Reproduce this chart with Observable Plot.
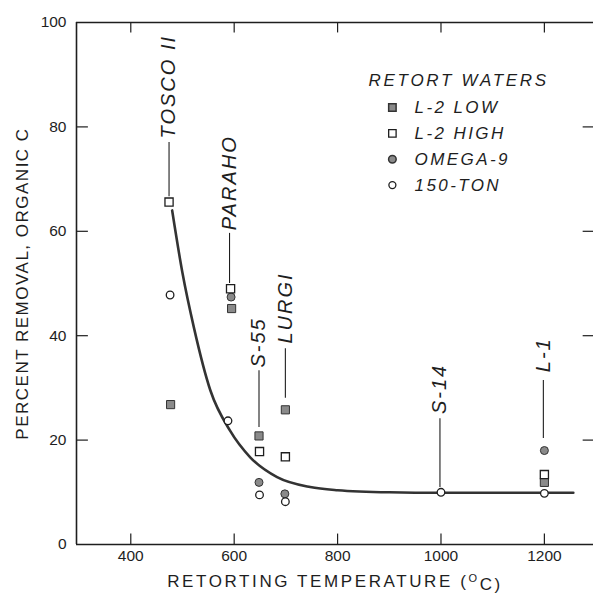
<!DOCTYPE html>
<html><head><meta charset="utf-8">
<script src="https://cdn.jsdelivr.net/npm/d3@7"></script>
<script src="https://cdn.jsdelivr.net/npm/@observablehq/plot@0.6"></script>
<style>
html,body{margin:0;padding:0;background:#fff;}
#chart svg{display:block;font-family:"Liberation Sans",Arial,Helvetica,sans-serif;}
</style></head><body><div id="chart"></div>
<script>
// ---- data ----
const seriesNames = ["L-2 LOW", "L-2 HIGH", "OMEGA-9", "150-TON"];
const l2Low  = [[477, 26.8], [595, 45.2], [648, 20.8], [699, 25.8], [1200, 11.9]];
const l2High = [[474, 65.6], [593, 49.0], [649, 17.8], [699, 16.8], [1200, 13.4]];
const omega9 = [[594, 47.4], [648, 11.9], [698, 9.7], [1200, 18.0]];
const ton150 = [[476, 47.8], [588, 23.7], [649, 9.5], [699, 8.2], [1000, 10.0], [1200, 9.8]];
const curveT = [480, 500, 522, 554, 592, 631, 683, 747, 800, 900, 1000, 1100, 1256];
const curveV = [64.0, 52.0, 41.6, 29.5, 21.8, 16.7, 12.9, 11.0, 10.4, 10.0, 9.9, 9.9, 9.9];
const processNames  = ["TOSCO II", "PARAHO", "S-55", "LURGI", "S-14", "L-1"];
const processTemps  = [474, 591, 648, 699, 998, 1198];
const labelBase     = [77.8, 60.2, 33.9, 38.5, 25.0, 33.0];
const leaderTop     = [77.0, 59.6, 33.3, 37.5, 24.1, 31.4];
const leaderBottom  = [66.6, 50.0, 22.4, 28.0, 10.9, 20.3];
const xTicks = [400, 600, 800, 1000, 1200];
const yTicks = [0, 20, 40, 60, 80, 100];
const xTitle = "RETORTING TEMPERATURE (OC)";
const yTitle = "PERCENT REMOVAL, ORGANIC C";
const legendTitle = "RETORT WATERS";

// ---- build tables ----
const pts = arr => arr.map(([t, v]) => ({t, v}));
const curve = curveT.map((t, i) => ({t, v: curveV[i]}));
const labels = processNames.map((name, i) => ({
  name, t: processTemps[i], base: labelBase[i], top: leaderTop[i], bottom: leaderBottom[i]
}));
const legend = seriesNames.map((name, i) => ({name, i, y: 83.7 - i * 4.95}));

const ink = "#1e1e1e";
const gray = "#8a8a8a";
const XMIN = 295, XMAX = 1295;

const chart = Plot.plot({
  width: 595,
  height: 597,
  marginLeft: 76,
  marginRight: 2,
  marginTop: 22,
  marginBottom: 53,
  x: {domain: [XMIN, XMAX], label: null},
  y: {domain: [0, 100], label: null},
  style: {background: "#fff", color: ink, fontFamily: "Liberation Sans, Arial, sans-serif"},
  marks: [
    // frame
    Plot.ruleY([0], {stroke: ink, strokeWidth: 1.6}),
    Plot.ruleY([100], {stroke: ink, strokeWidth: 1.3}),
    Plot.ruleX([XMIN], {stroke: ink, strokeWidth: 1.6}),
    // inward ticks
    Plot.ruleX(xTicks, {y1: 0, y2: 2, stroke: ink, strokeWidth: 1.2}),
    Plot.ruleX(xTicks, {y1: 100, y2: 98, stroke: ink, strokeWidth: 1.2}),
    Plot.ruleY(yTicks.slice(1, -1), {x1: XMIN, x2: XMIN + 23, stroke: ink, strokeWidth: 1.2}),
    Plot.ruleY(yTicks.slice(1, -1), {x1: XMAX - 20, x2: XMAX, stroke: ink, strokeWidth: 1.2}),
    // tick labels
    Plot.axisX(xTicks, {tickSize: 0, tickPadding: 5, fontSize: 15.5, fill: ink, tickFormat: d => String(d)}),
    Plot.axisY(yTicks, {tickSize: 0, tickPadding: 10, fontSize: 15.5, fill: ink, tickFormat: d => String(d)}),
    // axis titles
    Plot.text([yTitle], {frameAnchor: "left", dx: -54, rotate: -90, textAnchor: "middle", lineAnchor: "middle", fontSize: 17, fill: ink}),
    Plot.text([xTitle], {frameAnchor: "bottom", dy: 37, textAnchor: "middle", lineAnchor: "middle", fontSize: 17, fill: ink}),
    // fitted curve
    Plot.line(curve, {x: "t", y: "v", curve: "monotone-x", stroke: "#333", strokeWidth: 2.6}),
    // process leaders and labels
    Plot.ruleX(labels, {x: "t", y1: "bottom", y2: "top", stroke: ink, strokeWidth: 1.1}),
    Plot.text(labels, {x: "t", y: "base", text: "name", rotate: -90, textAnchor: "start",
      fontStyle: "italic", fontSize: 20, fill: ink}),
    // data points
    Plot.dot(pts(l2Low),  {x: "t", y: "v", symbol: "square", r: 4.6, fill: gray, stroke: "#333", strokeWidth: 1}),
    Plot.dot(pts(omega9), {x: "t", y: "v", symbol: "circle", r: 4.0, fill: gray, stroke: "#333", strokeWidth: 1}),
    Plot.dot(pts(l2High), {x: "t", y: "v", symbol: "square", r: 4.6, fill: "#fff", stroke: ink, strokeWidth: 1.3}),
    Plot.dot(pts(ton150), {x: "t", y: "v", symbol: "circle", r: 3.8, fill: "#fff", stroke: ink, strokeWidth: 1.3}),
    // legend
    Plot.text([legendTitle], {x: 860, y: 88.9, textAnchor: "start", fontStyle: "italic", fontSize: 17, fill: ink}),
    Plot.dot(legend.filter(d => d.i === 0), {x: 906, y: "y", symbol: "square", r: 4.2, fill: gray, stroke: "#333"}),
    Plot.dot(legend.filter(d => d.i === 1), {x: 906, y: "y", symbol: "square", r: 4.2, fill: "#fff", stroke: ink, strokeWidth: 1.3}),
    Plot.dot(legend.filter(d => d.i === 2), {x: 906, y: "y", symbol: "circle", r: 3.8, fill: gray, stroke: "#333"}),
    Plot.dot(legend.filter(d => d.i === 3), {x: 906, y: "y", symbol: "circle", r: 3.5, fill: "#fff", stroke: ink, strokeWidth: 1.3}),
    Plot.text(legend, {x: 949, y: "y", text: "name", textAnchor: "start", fontStyle: "italic", fontSize: 17, fill: ink})
  ]
});

document.getElementById("chart").appendChild(chart);

// letter spacing of the original lettering, and the superscript "O" in the x title
const spacing = new Map([
  ...processNames.map(n => [n, "2px"]),
  ...seriesNames.map(n => [n, "2.4px"]),
  [legendTitle, "2.7px"],
  [xTitle, "2.6px"],
  [yTitle, "1.5px"]
]);
d3.select(chart).selectAll("text").each(function() {
  const s = spacing.get(this.textContent);
  if (s) this.style.letterSpacing = s;
  if (this.textContent === xTitle) {
    const el = d3.select(this);
    el.text(null);
    el.append("tspan").text("RETORTING TEMPERATURE (");
    el.append("tspan").attr("dy", "-0.45em").attr("font-size", 11).text("O");
    el.append("tspan").attr("dy", "0.45em").text("C)");
  }
});
</script>
</body></html>
